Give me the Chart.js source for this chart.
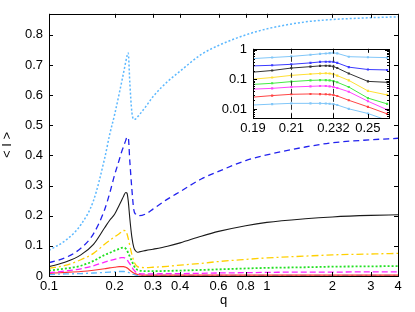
<!DOCTYPE html>
<html>
<head>
<meta charset="utf-8">
<script src="https://cdn.jsdelivr.net/npm/chart.js@4/dist/chart.umd.min.js"></script>
<style>
  body { margin: 0; background: #fff; }
  #caixa { position: relative; width: 415px; height: 312px; }
  #grafico { position: absolute; left: 0; top: 0; }
  #detalhe { position: absolute; left: 205px; top: 35px; }
</style>
</head>
<body>
<div id="caixa">
  <canvas id="grafico" width="415" height="312"></canvas>
  <canvas id="detalhe" width="190" height="105"></canvas>
</div>
<script>
// grafico principal: <I> contra q (eixo x logaritmico)
var q = [0.1, 0.12, 0.14, 0.16, 0.18, 0.19, 0.2, 0.21, 0.215, 0.22, 0.225, 0.228, 0.231, 0.235, 0.24, 0.245, 0.25, 0.255, 0.26, 0.28, 0.3, 0.35, 0.4, 0.5, 0.6, 0.8, 1, 1.5, 2, 3, 4];
var serieAzulClaro = [0.085, 0.12, 0.17, 0.25, 0.39, 0.47, 0.535, 0.605, 0.64, 0.675, 0.71, 0.73, 0.74, 0.64, 0.545, 0.52, 0.521, 0.528, 0.535, 0.565, 0.595, 0.645, 0.68, 0.735, 0.765, 0.8, 0.82, 0.843, 0.851, 0.857, 0.86];
var serieAzul = [0.044, 0.062, 0.092, 0.14, 0.22, 0.275, 0.335, 0.385, 0.41, 0.43, 0.45, 0.46, 0.46, 0.38, 0.29, 0.22, 0.205, 0.2, 0.2, 0.207, 0.222, 0.255, 0.28, 0.322, 0.347, 0.383, 0.402, 0.428, 0.442, 0.452, 0.457];
var seriePreta = [0.031, 0.047, 0.07, 0.105, 0.16, 0.185, 0.205, 0.235, 0.25, 0.265, 0.277, 0.275, 0.25, 0.19, 0.13, 0.095, 0.083, 0.079, 0.08, 0.085, 0.089, 0.099, 0.11, 0.132, 0.148, 0.167, 0.178, 0.19, 0.196, 0.201, 0.203];
var serieAmarela = [0.025, 0.036, 0.054, 0.075, 0.105, 0.118, 0.13, 0.14, 0.146, 0.151, 0.15, 0.14, 0.125, 0.1, 0.072, 0.05, 0.037, 0.031, 0.029, 0.028, 0.029, 0.032, 0.036, 0.042, 0.048, 0.055, 0.06, 0.066, 0.07, 0.073, 0.075];
var serieVerde = [0.018, 0.025, 0.034, 0.05, 0.07, 0.077, 0.084, 0.09, 0.093, 0.094, 0.091, 0.085, 0.076, 0.064, 0.05, 0.035, 0.025, 0.02, 0.018, 0.016, 0.016, 0.017, 0.018, 0.02, 0.022, 0.025, 0.027, 0.029, 0.031, 0.032, 0.033];
var serieMagenta = [0.011, 0.017, 0.024, 0.034, 0.046, 0.051, 0.055, 0.059, 0.061, 0.061, 0.058, 0.054, 0.048, 0.04, 0.03, 0.02, 0.013, 0.009, 0.008, 0.007, 0.007, 0.008, 0.008, 0.009, 0.01, 0.011, 0.012, 0.013, 0.013, 0.014, 0.014];
var serieVermelha = [0.009, 0.012, 0.015, 0.019, 0.024, 0.027, 0.029, 0.031, 0.031, 0.031, 0.029, 0.027, 0.024, 0.019, 0.014, 0.01, 0.007, 0.005, 0.004, 0.003, 0.003, 0.003, 0.003, 0.003, 0.003, 0.003, 0.003, 0.003, 0.003, 0.003, 0.003];
var serieCiano = [0.005, 0.007, 0.008, 0.01, 0.012, 0.013, 0.014, 0.015, 0.015, 0.015, 0.014, 0.013, 0.012, 0.01, 0.007, 0.005, 0.003, 0.002, 0.002, 0.002, 0.002, 0.002, 0.002, 0.002, 0.002, 0.002, 0.002, 0.002, 0.002, 0.002, 0.002];
var ticksX = [0.1, 0.2, 0.3, 0.4, 0.6, 0.8, 1, 2, 3, 4];
var ticksY = [0, 0.1, 0.2, 0.3, 0.4, 0.5, 0.6, 0.7, 0.8];

// detalhe (inset): escala log em y
var qDet = [0.19, 0.2, 0.21, 0.22, 0.225, 0.228, 0.23, 0.232, 0.234, 0.24, 0.25, 0.26];
var detAzulClaro = [0.505, 0.55, 0.597, 0.677, 0.729, 0.75, 0.77, 0.785, 0.756, 0.585, 0.563, 0.543];
var detAzul = [0.286, 0.3, 0.324, 0.362, 0.39, 0.395, 0.395, 0.39, 0.362, 0.26, 0.216, 0.209];
var detPreta = [0.176, 0.2, 0.242, 0.27, 0.286, 0.29, 0.286, 0.274, 0.242, 0.159, 0.086, 0.08];
var detAmarela = [0.102, 0.116, 0.137, 0.152, 0.159, 0.161, 0.159, 0.15, 0.134, 0.093, 0.041, 0.03];
var detVerde = [0.068, 0.074, 0.0845, 0.093, 0.095, 0.095, 0.093, 0.088, 0.08, 0.0555, 0.0235, 0.015];
var detMagenta = [0.047, 0.05, 0.0555, 0.0585, 0.06, 0.06, 0.0585, 0.0555, 0.0516, 0.0385, 0.0184, 0.0095];
var detVermelha = [0.0253, 0.0285, 0.0315, 0.0324, 0.032, 0.0315, 0.031, 0.0297, 0.0276, 0.0198, 0.0119, 0.0069];
var detCiano = [0.0137, 0.0147, 0.0156, 0.0156, 0.0156, 0.0154, 0.0151, 0.0147, 0.0137, 0.0102, 0.0071, 0.0042];
var ticksXDet = [0.19, 0.21, 0.232, 0.25];
var ticksYDet = [0.01, 0.1, 1];
var linhasDet = [0.21, 0.232];

Chart.defaults.font.family = "'Liberation Sans', Arial, sans-serif";
Chart.defaults.font.size = 13;
Chart.defaults.color = '#000';

// moldura estilo gnuplot: caixa e ticks para dentro nos quatro lados
const moldura = {
    id: 'moldura',
    afterDatasetsDraw(chart, args, opts) {
        const ctx = chart.ctx;
        const a = chart.chartArea;
        const sx = chart.scales.x, sy = chart.scales.y;
        const tam = opts.tam || 4;
        ctx.save();
        if (opts.tracejadas) {
            ctx.strokeStyle = '#333';
            ctx.setLineDash([5, 3]);
            ctx.beginPath();
            opts.tracejadas.forEach(function(v) {
                const px = Math.round(sx.getPixelForValue(v)) + 0.5;
                ctx.moveTo(px, a.top);
                ctx.lineTo(px, a.bottom);
            });
            ctx.stroke();
            ctx.setLineDash([]);
        }
        ctx.strokeStyle = '#000';
        ctx.lineWidth = 1;
        ctx.beginPath();
        sx.ticks.forEach(function(t) {
            const px = Math.round(sx.getPixelForValue(t.value)) + 0.5;
            ctx.moveTo(px, a.bottom); ctx.lineTo(px, a.bottom - tam);
            ctx.moveTo(px, a.top); ctx.lineTo(px, a.top + tam);
        });
        sy.ticks.forEach(function(t) {
            const py = Math.round(sy.getPixelForValue(t.value)) + 0.5;
            ctx.moveTo(a.left, py); ctx.lineTo(a.left + tam, py);
            ctx.moveTo(a.right, py); ctx.lineTo(a.right - tam, py);
        });
        if (opts.menores) {
            for (let d = 0.001; d < 1; d *= 10) {
                for (let k = 2; k <= 9; k++) {
                    const v = d * k;
                    if (v < sy.min || v > sy.max) continue;
                    const py = Math.round(sy.getPixelForValue(v)) + 0.5;
                    ctx.moveTo(a.left, py); ctx.lineTo(a.left + tam / 2, py);
                    ctx.moveTo(a.right, py); ctx.lineTo(a.right - tam / 2, py);
                }
            }
        }
        ctx.stroke();
        ctx.strokeRect(Math.round(a.left) + 0.5, Math.round(a.top) + 0.5, Math.round(a.width), Math.round(a.height));
        ctx.restore();
    }
};

function serie(dados, cor, tracos, largura) {
    return {
        data: dados,
        borderColor: cor,
        borderWidth: largura || 1.3,
        borderDash: tracos || [],
        pointRadius: 0,
        fill: false,
        cubicInterpolationMode: 'monotone'
    };
}

function serieDet(dados, cor) {
    return {
        data: dados,
        borderColor: cor,
        backgroundColor: cor,
        borderWidth: 1,
        pointStyle: 'rect',
        pointRadius: 1.5,
        pointBorderWidth: 0,
        fill: false,
        tension: 0
    };
}

function MontaGrafico() {
    new Chart(document.getElementById('grafico'), {
        type: 'line',
        data: {
            labels: q,
            datasets: [
                serie(serieAzulClaro, '#5cb8ff', [2, 2], 1.5),
                serie(serieAzul, '#2222ee', [6, 4]),
                serie(seriePreta, '#1a1a1a', [], 1.1),
                serie(serieAmarela, '#ffd000', [7, 3, 2, 3]),
                serie(serieVerde, '#22e022', [2, 2], 1.8),
                serie(serieMagenta, '#ff22ff', [6, 3]),
                serie(serieVermelha, '#ff3333', [], 1.2),
                serie(serieCiano, '#5cb8ff', [6, 3, 2, 3])
            ]
        },
        options: {
            responsive: false,
            animation: false,
            layout: { padding: { top: 12, right: 17, left: 0, bottom: 0 } },
            plugins: {
                legend: { display: false },
                tooltip: { enabled: false },
                moldura: { tam: 4 }
            },
            scales: {
                x: {
                    type: 'logarithmic',
                    min: 0.1,
                    max: 4,
                    afterBuildTicks: function(eixo) { eixo.ticks = ticksX.map(function(v) { return { value: v }; }); },
                    afterFit: function(eixo) { eixo.height = 36; },
                    grid: { display: false, drawTicks: false },
                    border: { display: false },
                    ticks: { padding: 3, autoSkip: false, maxRotation: 0, callback: function(v) { return String(v); } },
                    title: { display: true, text: 'q', padding: { top: 0, bottom: 4 } }
                },
                y: {
                    min: 0,
                    max: 0.87,
                    afterBuildTicks: function(eixo) { eixo.ticks = ticksY.map(function(v) { return { value: v }; }); },
                    afterFit: function(eixo) { eixo.width = 49; },
                    grid: { display: false, drawTicks: false },
                    border: { display: false },
                    ticks: { padding: 6, callback: function(v) { return v === 0 ? '0' : v.toFixed(1); } },
                    title: { display: true, text: '< I >', padding: { top: 0, bottom: 0 } }
                }
            }
        },
        plugins: [moldura]
    });
}

function MontaDetalhe() {
    new Chart(document.getElementById('detalhe'), {
        type: 'line',
        data: {
            labels: qDet,
            datasets: [
                serieDet(detAzulClaro, '#80c6f8'),
                serieDet(detAzul, '#3a3aff'),
                serieDet(detPreta, '#333333'),
                serieDet(detAmarela, '#ffdf33'),
                serieDet(detVerde, '#44ea44'),
                serieDet(detMagenta, '#ff44ff'),
                serieDet(detVermelha, '#ff4444'),
                serieDet(detCiano, '#80c6f8')
            ]
        },
        options: {
            responsive: false,
            animation: false,
            layout: { padding: { top: 10, right: 6, left: 0, bottom: 0 } },
            plugins: {
                legend: { display: false },
                tooltip: { enabled: false },
                moldura: { tam: 4, menores: true, tracejadas: linhasDet }
            },
            scales: {
                x: {
                    type: 'linear',
                    min: 0.19,
                    max: 0.261,
                    afterBuildTicks: function(eixo) { eixo.ticks = ticksXDet.map(function(v) { return { value: v }; }); },
                    afterFit: function(eixo) { eixo.height = 22; },
                    grid: { display: false, drawTicks: false },
                    border: { display: false },
                    ticks: { padding: 3, autoSkip: false, maxRotation: 0, callback: function(v) { return String(v); } }
                },
                y: {
                    type: 'logarithmic',
                    min: 0.005,
                    max: 1.08,
                    afterBuildTicks: function(eixo) { eixo.ticks = ticksYDet.map(function(v) { return { value: v }; }); },
                    afterFit: function(eixo) { eixo.width = 48; },
                    grid: { display: false, drawTicks: false },
                    border: { display: false },
                    ticks: { padding: 6, callback: function(v) { return String(v); } }
                }
            }
        },
        plugins: [moldura]
    });
}

MontaGrafico();
MontaDetalhe();
</script>
</body>
</html>
